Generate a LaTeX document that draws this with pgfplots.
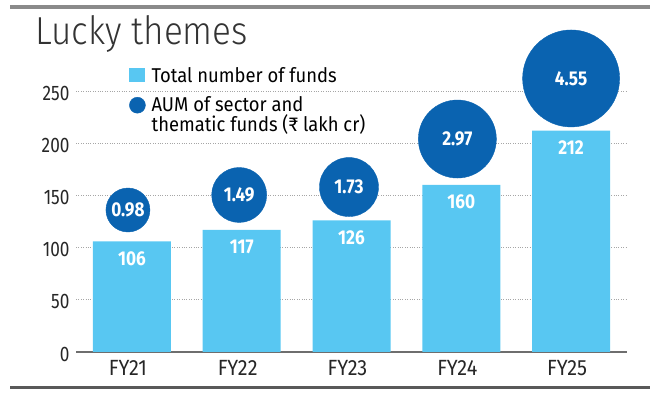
\documentclass[border=0pt]{standalone}
\usepackage{pgfplots}
\pgfplotsset{compat=1.18}
\usepackage{pgfplotstable}
\usepackage{fontspec}
\setmainfont{Fira Sans}[FakeStretch=0.86]
\newfontfamily\legfont{Fira Sans}[FakeStretch=0.92]
\newfontfamily\ytickfont{Fira Sans}[FakeStretch=0.82]
\newfontfamily\xtickfont{Fira Sans}[FakeStretch=0.9]
\newfontfamily\titlefont{Fira Sans Light}[FakeStretch=0.9]
\definecolor{barblue}{RGB}{88,199,242}
\definecolor{bubblue}{RGB}{10,99,176}
\definecolor{rulegray}{RGB}{138,138,138}
\definecolor{axgray}{RGB}{110,110,110}

\pgfplotstableread{
x y
0 106
1 117
2 126
3 160
4 212
}\bars

\pgfplotsset{
  bubble/.style={only marks, mark=*, color=bubblue, mark size=#1,
    point meta=explicit symbolic, nodes near coords,
    every node near coord/.append style={anchor=center, text=white,
      font=\fontsize{20}{20}\selectfont\bfseries}},
}

\begin{document}
\begin{tikzpicture}[x=1pt,y=1pt]
\begin{axis}[
  at={(76pt,46pt)}, anchor=south west,
  scale only axis, width=551pt, height=261pt,
  xmin=-0.509, xmax=4.509, ymin=0, ymax=250,
  clip=false,
  axis lines*=left, separate axis lines,
  y axis line style={draw=none},
  x axis line style={draw=axgray, line width=1.3pt},
  major tick length=0pt,
  xtick={0,1,2,3,4},
  xticklabels={FY21,FY22,FY23,FY24,FY25},
  ytick={0,50,100,150,200,250},
  ymajorgrids,
  grid style={dotted, gray!70, line width=0.7pt},
  /pgf/number format/assume math mode=true,
  yticklabel style={font=\ytickfont\fontsize{21}{21}\selectfont, text=black!85, xshift=-3pt, yshift=-2pt},
  xticklabel style={font=\xtickfont\fontsize{22}{22}\selectfont, text=black!85, yshift=-5pt, xshift=-4pt},
  legend style={at={(0.0962,1.0996)}, anchor=north west, draw=none, fill=none,
    inner sep=0pt, row sep=9pt, font=\legfont\fontsize{20}{19.5}\selectfont,
    cells={anchor=west, align=left},
    /tikz/every odd column/.append style={column sep=4pt}},
]
\addplot[ybar, bar width=78pt, fill=barblue, draw=none,
  legend image code/.code={\fill[barblue] (0pt,-7pt) rectangle (16pt,7pt);},
  nodes near coords,
  every node near coord/.append style={anchor=center, yshift=-17pt, text=white,
    font=\fontsize{20}{20}\selectfont\bfseries}]
  table[x=x, y=y] {\bars};
\addlegendentry{Total number of funds}
\addplot[bubble=22pt,
  legend image code/.code={\fill[bubblue] (8pt,9.5pt) circle (8pt);}]
  coordinates {(-0.036,136.0) [0.98]};
\addlegendentry{AUM of sector and\\thematic funds (₹ lakh cr)}
\addplot[bubble=27.5pt, forget plot] coordinates {(0.977,150.4) [1.49]};
\addplot[bubble=29.5pt, forget plot] coordinates {(1.977,158.0) [1.73]};
\addplot[bubble=39pt, forget plot] coordinates {(2.964,204.0) [2.97]};
\addplot[bubble=48.5pt, forget plot] coordinates {(4.000,262.0) [4.55]};
\end{axis}
\draw[rulegray, line width=4pt] (10,391) -- (650,391);
\draw[black!65, line width=3pt] (10,10) -- (650,10);
\node[anchor=base west, inner sep=0pt, font=\titlefont\fontsize{39}{39}\selectfont, text=black!80] at (35,353) {Lucky themes};
\pgfresetboundingbox
\useasboundingbox (0,0) rectangle (660,398);
\end{tikzpicture}
\end{document}
